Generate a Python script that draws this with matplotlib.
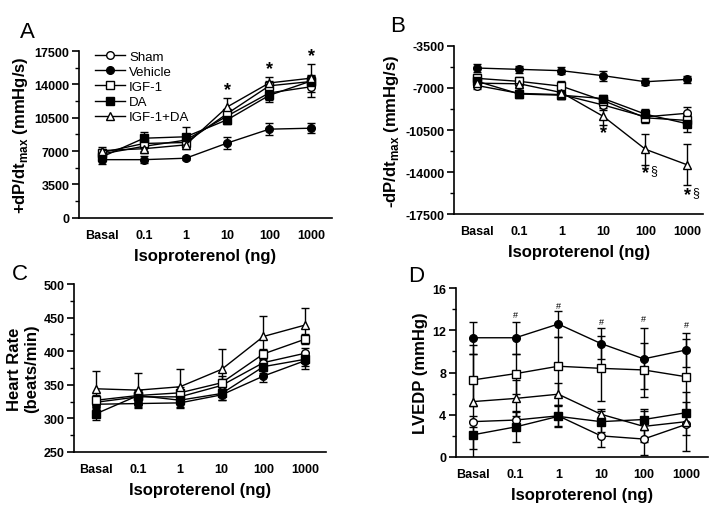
import matplotlib.pyplot as plt
from matplotlib.lines import Line2D
from matplotlib.ticker import MultipleLocator

plt.rcParams['font.family'] = ['Liberation Sans', 'DejaVu Sans']
plt.rcParams['axes.unicode_minus'] = False
plt.rcParams['mathtext.fontset'] = 'custom'
plt.rcParams['mathtext.bf'] = 'Liberation Sans:bold'
plt.rcParams['mathtext.rm'] = 'Liberation Sans'

doses = ["Basal", "0.1", "1", "10", "100", "1000"]
groups = ["Sham", "Vehicle", "IGF-1", "DA", "IGF-1+DA"]

# panel A: +dP/dt max
a_mean = {
    "Sham": [6700, 7500, 8150, 10700, 13100, 13750],
    "Vehicle": [6100, 6100, 6250, 7850, 9300, 9400],
    "IGF-1": [6850, 7800, 7900, 10950, 13850, 14300],
    "DA": [6400, 8350, 8500, 10300, 12850, 14350],
    "IGF-1+DA": [7050, 7250, 7650, 11650, 14150, 14650],
}
a_err = {
    "Sham": [400, 500, 500, 500, 700, 1100],
    "Vehicle": [500, 400, 200, 600, 600, 500],
    "IGF-1": [400, 500, 500, 500, 500, 600],
    "DA": [400, 600, 1000, 500, 700, 600],
    "IGF-1+DA": [400, 400, 400, 900, 650, 1500],
}

# panel B: -dP/dt max
b_mean = {
    "Sham": [-6800, -7450, -7550, -8420, -9400, -9100],
    "Vehicle": [-5340, -5450, -5560, -5980, -6480, -6280],
    "IGF-1": [-6200, -6450, -6850, -8050, -9480, -9700],
    "DA": [-6450, -7500, -7600, -7880, -9180, -9980],
    "IGF-1+DA": [-6600, -6650, -7380, -9370, -12100, -13400],
}
b_err = {
    "Sham": [300, 300, 400, 400, 400, 500],
    "Vehicle": [300, 300, 300, 400, 300, 300],
    "IGF-1": [400, 400, 400, 300, 400, 500],
    "DA": [300, 300, 300, 300, 400, 700],
    "IGF-1+DA": [300, 300, 400, 700, 1300, 1700],
}

# panel C: heart rate
c_mean = {
    "Sham": [324, 332, 332, 349, 383, 397],
    "Vehicle": [321, 322, 323, 335, 363, 386],
    "IGF-1": [327, 334, 338, 353, 396, 418],
    "DA": [307, 334, 327, 337, 377, 388],
    "IGF-1+DA": [344, 342, 347, 373, 422, 439],
}
c_err = {
    "Sham": [8, 8, 8, 10, 8, 8],
    "Vehicle": [7, 7, 8, 8, 9, 13],
    "IGF-1": [8, 8, 8, 10, 8, 7],
    "DA": [10, 8, 10, 10, 10, 10],
    "IGF-1+DA": [27, 25, 26, 30, 31, 26],
}

# panel D: LVEDP
d_mean = {
    "Sham": [3.35, 3.5, 3.9, 2.0, 1.7, 3.1],
    "Vehicle": [11.3, 11.3, 12.6, 10.75, 9.3, 10.15],
    "IGF-1": [7.3, 7.9, 8.6, 8.4, 8.25, 7.6],
    "DA": [2.1, 2.85, 3.85, 3.35, 3.55, 4.2],
    "IGF-1+DA": [5.25, 5.55, 5.95, 4.05, 2.9, 3.35],
}
d_err = {
    "Sham": [0.5, 0.9, 1.0, 1.1, 1.5, 1.0],
    "Vehicle": [1.5, 1.5, 1.2, 1.45, 2.9, 1.6],
    "IGF-1": [2.5, 1.9, 2.8, 3.1, 2.6, 3.6],
    "DA": [1.3, 1.4, 1.0, 1.0, 1.0, 1.0],
    "IGF-1+DA": [5.4, 1.7, 1.05, 0.5, 1.5, 2.8],
}

styles = {
    "Sham": dict(marker="o", mfc="white"),
    "Vehicle": dict(marker="o", mfc="black"),
    "IGF-1": dict(marker="s", mfc="white"),
    "DA": dict(marker="s", mfc="black"),
    "IGF-1+DA": dict(marker="^", mfc="white"),
}


def draw_panel(ax, means, errs, ylim, major, minor, ylabel, xlim):
    x = list(range(len(doses)))
    for g in groups:
        ax.errorbar(x, means[g], yerr=errs[g], color="black", lw=1.0,
                    ms=5.5, mec="black", mew=1.0, capsize=2.8, capthick=1.0,
                    elinewidth=1.0, **styles[g])
    ax.set_xlim(*xlim)
    ax.set_ylim(*ylim)
    ax.yaxis.set_major_locator(MultipleLocator(major))
    ax.yaxis.set_minor_locator(MultipleLocator(minor))
    ax.set_xticks(x)
    ax.set_xticklabels(doses, fontweight="bold", fontsize=9)
    for lab in ax.get_yticklabels():
        lab.set_fontweight("bold")
        lab.set_fontsize(9)
    ax.tick_params(axis="x", length=0, pad=8)
    ax.tick_params(axis="y", which="major", length=5, width=1.2, direction="out", pad=2)
    ax.tick_params(axis="y", which="minor", length=3, width=1.0, direction="out")
    ax.spines["top"].set_visible(False)
    ax.spines["right"].set_visible(False)
    ax.spines["left"].set_linewidth(1.2)
    ax.spines["bottom"].set_linewidth(1.2)
    ax.set_xlabel("Isoproterenol (ng)", fontweight="bold", fontsize=12, labelpad=5)
    ax.set_ylabel(ylabel, fontweight="bold", fontsize=12, labelpad=3)


fig = plt.figure(figsize=(7.2, 5.1), dpi=100)

axA = fig.add_axes([0.110, 0.571, 0.351, 0.327])
draw_panel(axA, a_mean, a_err, (0, 17500), 3500, 1750,
           "+dP/dt$_{\\mathbf{max}}$ (mmHg/s)", (-0.55, 5.5))
handles = [Line2D([], [], color="black", lw=1.0, ms=5.5, mec="black", mew=1.0,
                  **styles[g]) for g in groups]
axA.legend(handles, groups, loc="upper left", bbox_to_anchor=(0.03, 1.05),
           frameon=False, fontsize=9.5, handlelength=2.3, handletextpad=0.3,
           labelspacing=0.22, borderaxespad=0.2, numpoints=1)
for xi, yv in zip([3, 4, 5], [13500, 15650, 17050]):
    axA.text(xi, yv, "*", ha="center", va="center", fontsize=13, fontweight="bold")

axB = fig.add_axes([0.631, 0.578, 0.346, 0.330])
draw_panel(axB, b_mean, b_err, (-17500, -3500), 3500, 1750,
           "-dP/dt$_{\\mathbf{max}}$ (mmHg/s)", (-0.55, 5.38))
axB.text(3, -10700, "*", ha="center", va="center", fontsize=13, fontweight="bold")
for xi, yv in zip([4, 5], [-14000, -15830]):
    axB.text(xi, yv, "*", ha="center", va="center", fontsize=13, fontweight="bold")
    axB.text(xi + 0.2, yv + 150, "§", ha="center", va="center", fontsize=9)

axC = fig.add_axes([0.103, 0.112, 0.350, 0.329])
draw_panel(axC, c_mean, c_err, (250, 500), 50, 25,
           "Heart Rate\n(beats/min)", (-0.53, 5.5))

axD = fig.add_axes([0.633, 0.102, 0.350, 0.331])
draw_panel(axD, d_mean, d_err, (0, 16), 4, 2, "LVEDP (mmHg)", (-0.4, 5.5))
for xi, yv in zip([1, 2, 3, 4, 5], [13.5, 14.4, 12.8, 13.1, 12.6]):
    axD.text(xi, yv, "#", ha="center", va="center", fontsize=6.5)

fig.text(27 / 720, 1 - 33 / 510, "A", fontsize=16, ha="center", va="center")
fig.text(398 / 720, 1 - 27 / 510, "B", fontsize=16, ha="center", va="center")
fig.text(20 / 720, 1 - 274 / 510, "C", fontsize=16, ha="center", va="center")
fig.text(416 / 720, 1 - 277 / 510, "D", fontsize=16, ha="center", va="center")

fig.savefig("out.png", dpi=100)
